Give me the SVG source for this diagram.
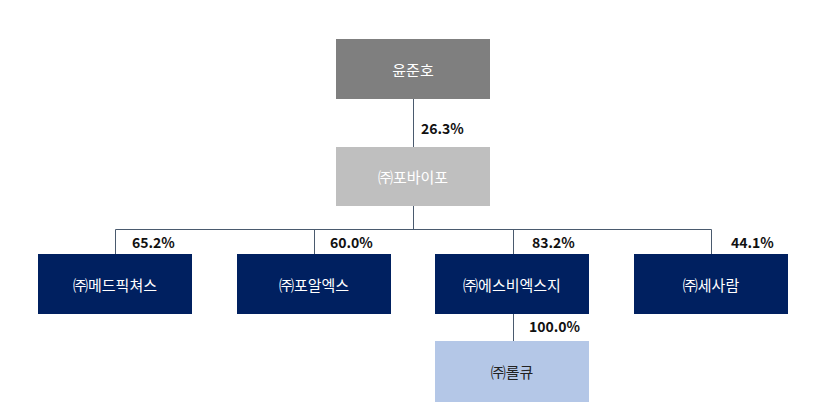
<svg xmlns="http://www.w3.org/2000/svg" width="831" height="419" viewBox="0 0 831 419">
<style>
.n{font-family:"Noto Sans CJK KR","Noto Sans",sans-serif;font-size:15px;text-anchor:middle;dominant-baseline:central}
.w{fill:#ffffff}
.k{fill:#222222}
.p{font-family:"Noto Sans CJK KR","Noto Sans",sans-serif;font-size:14px;font-weight:bold;fill:#111111;dominant-baseline:central}
.c{stroke:#4a5a6e;stroke-width:1;fill:none}
</style>
<rect width="831" height="419" fill="#ffffff"/>
<g id="connectors">
<path class="c" d="M413.5 99V147"/>
<path class="c" d="M413.5 206V229.5"/>
<path class="c" d="M115.5 254V229.5H711.5V254"/>
<path class="c" d="M314.5 229.5V254"/>
<path class="c" d="M513.5 229.5V254"/>
<path class="c" d="M513.5 314V341"/>
<text class="p" x="421" y="128">26.3%</text>
<text class="p" x="132" y="242">65.2%</text>
<text class="p" x="330" y="242">60.0%</text>
<text class="p" x="532" y="242">83.2%</text>
<text class="p" x="731" y="242">44.1%</text>
<text class="p" x="529" y="326">100.0%</text>
</g>
<g id="n-yoon"><rect x="336" y="39" width="154" height="60" fill="#7f7f7f"/><text class="n w" x="413" y="69">윤준호</text></g>
<g id="n-pobaipo"><rect x="336" y="147" width="154" height="59" fill="#bfbfbf"/><text class="n w" x="413" y="176.5">㈜포바이포</text></g>
<g id="n-med"><rect x="38" y="254" width="154" height="60" fill="#002060"/><text class="n w" x="115" y="284">㈜메드픽쳐스</text></g>
<g id="n-poal"><rect x="237" y="254" width="154" height="60" fill="#002060"/><text class="n w" x="314" y="284">㈜포알엑스</text></g>
<g id="n-sbx"><rect x="435" y="254" width="154" height="60" fill="#002060"/><text class="n w" x="512" y="284">㈜에스비엑스지</text></g>
<g id="n-sesa"><rect x="634" y="254" width="154" height="60" fill="#002060"/><text class="n w" x="711" y="284">㈜세사람</text></g>
<g id="n-rolq"><rect x="435" y="341" width="154" height="61" fill="#b4c7e7"/><text class="n k" x="512" y="371.5">㈜롤큐</text></g>
</svg>
